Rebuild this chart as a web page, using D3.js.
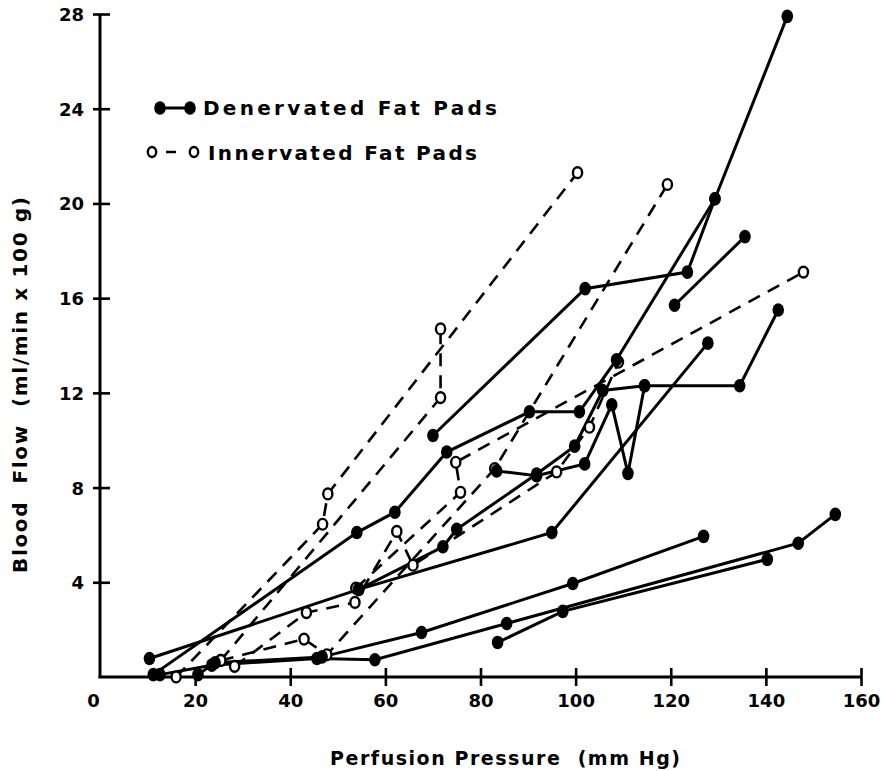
<!DOCTYPE html>
<html>
<head>
<meta charset="utf-8">
<script src="https://cdn.jsdelivr.net/npm/d3@7"></script>
<style>
  body { margin: 0; background: #fff; }
  text { font-family: "DejaVu Sans", sans-serif; font-weight: bold; fill: #000; white-space: pre; }
</style>
</head>
<body>
<div id="chart"></div>
<script>
// tick values
const xTicks = [0, 20, 40, 60, 80, 100, 120, 140, 160];
const yTicks = [4, 8, 12, 16, 20, 24, 28];

// denervated fat pads, one inner array per experiment (mm Hg / ml/min x 100 g)
const denPressure = [
  [10.4, 54.4, 95, 127.8],
  [11.2, 54, 62, 72.9, 90.3, 100.8, 108.6, 129.3, 144.5],
  [70, 102, 123.5, 129.3],
  [120.8, 135.6],
  [20.6, 24.2, 46.7, 67.6, 99.4, 126.9],
  [12.6, 23.5, 45.6, 57.8, 85.5, 146.8, 154.6],
  [83.6, 97.3, 140.3],
  [54.4, 72.1, 75, 91.8, 99.8, 105.7, 114.5, 134.5, 142.6],
  [83.4, 91.8, 101.9, 107.6, 111, 114.5]
];
const denFlow = [
  [0.78, 3.7, 6.1, 14.1],
  [0.1, 6.1, 6.96, 9.5, 11.2, 11.2, 13.4, 20.2, 27.9],
  [10.2, 16.4, 17.1, 20.2],
  [15.7, 18.6],
  [0.1, 0.6, 0.85, 1.88, 3.95, 5.94],
  [0.1, 0.5, 0.78, 0.73, 2.26, 5.65, 6.87],
  [1.46, 2.77, 4.97],
  [3.7, 5.5, 6.24, 8.57, 9.75, 12.1, 12.3, 12.3, 15.5],
  [8.7, 8.5, 9.0, 11.5, 8.6, 12.3]
];

// innervated fat pads
const innPressure = [
  [16, 46.8, 47.9, 100.4],
  [25.4, 71.6, 71.6],
  [28.3, 43.4, 53.6, 62.4, 65.8, 96, 102.9, 109],
  [25.4, 42.9, 47.7, 83, 119.3],
  [53.8, 75.8, 74.8, 147.9]
];
const innFlow = [
  [0, 6.45, 7.73, 21.3],
  [0.7, 11.8, 14.7],
  [0.45, 2.72, 3.15, 6.15, 4.72, 8.66, 10.55, 13.3],
  [0.7, 1.6, 0.94, 8.8, 20.8],
  [3.75, 7.8, 9.07, 17.1]
];

const width = 883, height = 771;

const svg = d3.select("#chart").append("svg")
  .attr("width", width)
  .attr("height", height)
  .style("background", "#fff");

const x = d3.scaleLinear().domain([0, 160]).range([100, 861]);
const y = d3.scaleLinear().domain([0, 28]).range([677, 14]);

const toPoints = (ps, fs) => ps.map((p, i) => ({ p: p, f: fs[i] }));
const denSeries = denPressure.map((ps, i) => toPoints(ps, denFlow[i]));
const innSeries = innPressure.map((ps, i) => toPoints(ps, innFlow[i]));

const line = d3.line().x(d => x(d.p)).y(d => y(d.f));

// Y axis
const yAxis = svg.append("g")
  .attr("transform", `translate(${x(0)},0)`)
  .call(d3.axisLeft(y).tickValues(yTicks).tickSize(6).tickPadding(10));
yAxis.select(".domain").remove();
yAxis.selectAll(".tick line")
  .attr("x1", -7).attr("x2", 10)
  .attr("stroke", "#000").attr("stroke-width", 2.6);
yAxis.selectAll(".tick text")
  .style("font-size", "18px")
  .attr("dy", "0.36em");
yAxis.append("line")
  .attr("x1", 0).attr("x2", 0)
  .attr("y1", y(0) + 1).attr("y2", y(28))
  .attr("stroke", "#000").attr("stroke-width", 3);

// X axis
const xAxis = svg.append("g")
  .attr("transform", `translate(0,${y(0)})`)
  .call(d3.axisBottom(x).tickValues(xTicks).tickSize(9).tickPadding(8));
xAxis.select(".domain").remove();
xAxis.selectAll(".tick line")
  .attr("y1", -9).attr("y2", 9)
  .attr("stroke", "#000").attr("stroke-width", 2.6)
  .filter(d => d === 0).remove();
xAxis.selectAll(".tick text")
  .style("font-size", "18px")
  .filter(d => d === 0).attr("x", -7);
xAxis.append("line")
  .attr("x1", x(0) - 1.5).attr("x2", x(160))
  .attr("y1", 0).attr("y2", 0)
  .attr("stroke", "#000").attr("stroke-width", 3);

// Axis titles
svg.append("text")
  .attr("transform", `translate(27,${385}) rotate(-90)`)
  .attr("text-anchor", "middle")
  .attr("textLength", 376)
  .attr("lengthAdjust", "spacing")
  .style("font-size", "20px")
  .text("Blood  Flow  (ml/min x 100 g)");

svg.append("text")
  .attr("x", 505)
  .attr("y", 765)
  .attr("text-anchor", "middle")
  .attr("textLength", 350)
  .attr("lengthAdjust", "spacing")
  .style("font-size", "19px")
  .text("Perfusion Pressure  (mm Hg)");

// Lines
svg.append("g").selectAll("path")
  .data(innSeries)
  .join("path")
  .attr("d", line)
  .attr("fill", "none")
  .attr("stroke", "#000")
  .attr("stroke-width", 2.6)
  .attr("stroke-dasharray", "13,9");

svg.append("g").selectAll("path")
  .data(denSeries)
  .join("path")
  .attr("d", line)
  .attr("fill", "none")
  .attr("stroke", "#000")
  .attr("stroke-width", 3);

// Markers
svg.append("g").selectAll("ellipse")
  .data(innSeries.flat())
  .join("ellipse")
  .attr("cx", d => x(d.p))
  .attr("cy", d => y(d.f))
  .attr("rx", 4.6).attr("ry", 5.4)
  .attr("fill", "#fff")
  .attr("stroke", "#000")
  .attr("stroke-width", 2.4);

svg.append("g").selectAll("ellipse")
  .data(denSeries.flat())
  .join("ellipse")
  .attr("cx", d => x(d.p))
  .attr("cy", d => y(d.f))
  .attr("rx", 5.8).attr("ry", 6.8)
  .attr("fill", "#000");

// Legend
const legend = svg.append("g");
legend.append("line")
  .attr("x1", 160).attr("x2", 190).attr("y1", 108).attr("y2", 108)
  .attr("stroke", "#000").attr("stroke-width", 3);
legend.selectAll("ellipse.den")
  .data([160, 190])
  .join("ellipse")
  .attr("class", "den")
  .attr("cx", d => d).attr("cy", 108)
  .attr("rx", 5.8).attr("ry", 6.8)
  .attr("fill", "#000");
legend.append("text")
  .attr("x", 203).attr("y", 115)
  .attr("textLength", 294)
  .attr("lengthAdjust", "spacing")
  .style("font-size", "20px")
  .text("Denervated Fat Pads");

legend.append("line")
  .attr("x1", 157).attr("x2", 190).attr("y1", 152).attr("y2", 152)
  .attr("stroke", "#000").attr("stroke-width", 2.6)
  .attr("stroke-dasharray", "0,9,10,40");
legend.selectAll("ellipse.inn")
  .data([152, 194])
  .join("ellipse")
  .attr("class", "inn")
  .attr("cx", d => d).attr("cy", 152)
  .attr("rx", 4.2).attr("ry", 5)
  .attr("fill", "#fff")
  .attr("stroke", "#000")
  .attr("stroke-width", 2.4);
legend.append("text")
  .attr("x", 208).attr("y", 160)
  .attr("textLength", 269)
  .attr("lengthAdjust", "spacing")
  .style("font-size", "20px")
  .text("Innervated Fat Pads");
</script>
</body>
</html>
